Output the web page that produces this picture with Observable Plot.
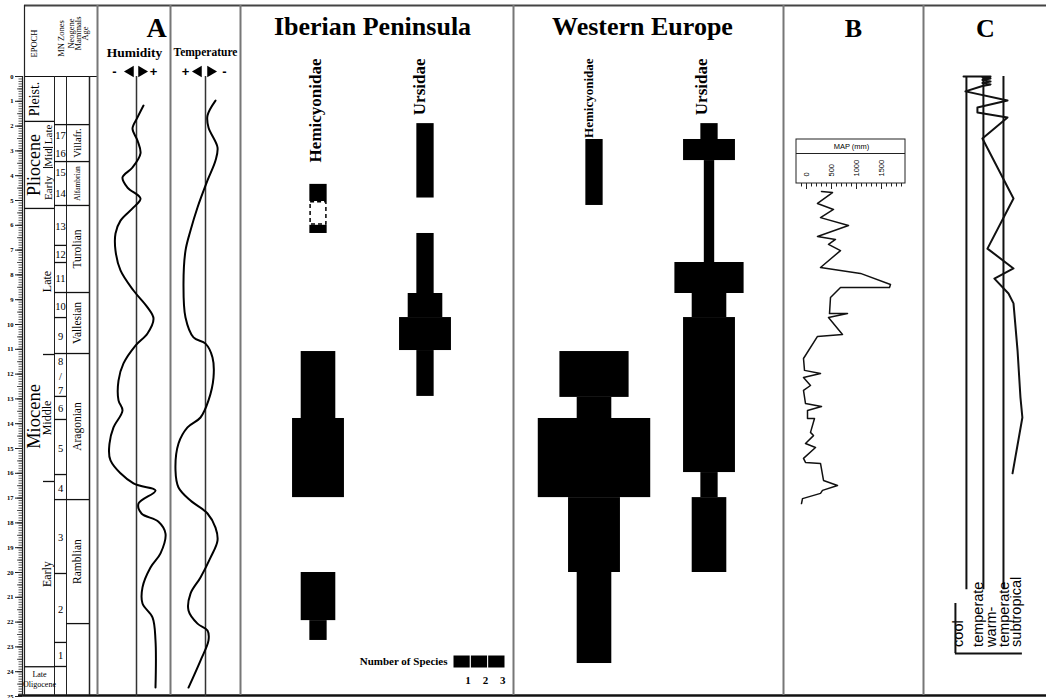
<!DOCTYPE html>
<html><head><meta charset="utf-8">
<script src="https://cdn.jsdelivr.net/npm/d3@7"></script>
<script src="https://cdn.jsdelivr.net/npm/@observablehq/plot@0.6"></script>
<style>
html,body{margin:0;padding:0;background:#fff;}
#root{position:relative;width:1046px;height:698px;overflow:hidden;background:#fff;}
#root svg{position:absolute;left:0;top:0;background:transparent !important;}
</style></head><body><div id="root"></div>
<script>
// ================= DATA =================
const ageTicks = d3.range(0, 26);                       // Ma
const epochNames = ["Pleist.", "Pliocene", "Miocene"];
const epochBounds = [0, 1.81, 5.32, 23.8];
const plioSubNames = ["Late", "Mid", "Early"];
const plioSubBounds = [1.81, 2.86, 3.67, 5.32];
const mioSubNames = ["Late", "Middle", "Early"];
const mioSubBounds = [5.32, 11.21, 16.33, 23.8];
const mnZones = ["17","16","15","14","13","12","11","10","9","8\n/\n7","6","5","4","3","2","1"];
const mnBounds = [1.94, 2.70, 3.43, 4.19, 5.20, 6.81, 7.50, 8.71, 9.72, 11.17, 12.90, 13.83, 16.05, 17.06, 20.04, 22.82, 23.79];
const mnLines = [1.94, 3.43, 5.20, 6.81, 7.50, 8.71, 9.72, 11.17, 12.90, 13.83, 16.05, 17.06, 20.04, 22.82, 23.79];
const mammalAges = ["Villafr.", "Alfambrian", "Turolian", "Vallesian", "Aragonian", "Ramblian"];
const mammalBounds = [1.94, 3.43, 5.20, 8.71, 11.17, 17.06, 22.06];

const humidityAge = [1.17,1.65,2.10,2.58,3.10,3.67,4.07,4.48,4.92,5.28,5.81,6.33,7.02,7.82,8.63,9.31,9.76,10.36,10.85,11.57,12.26,13.06,13.47,14.15,14.80,15.48,16.41,16.69,17.22,17.62,17.95,18.43,19.23,19.80,20.60,21.25,21.81,22.74,24.64];
const humidityValue = [0.35,0.05,-0.2,0.05,0.2,-0.2,-0.7,-0.45,0.2,-0.15,-0.8,-1.05,-1.05,-0.8,-0.15,0.55,0.85,0.55,-0.05,-0.65,-0.9,-0.9,-0.7,-1.15,-1.35,-1.3,-0.15,0.95,0.1,0.25,1.1,1.45,1.2,0.7,0.3,0.3,0.8,0.95,0.95];
const temperatureAge = [0.97,1.57,2.06,2.86,3.39,4.19,5.28,6.21,7.02,8.35,9.72,10.52,10.77,11.33,12.14,13.06,13.75,14.15,14.80,15.89,16.57,17.10,17.62,18.19,18.71,19.40,20.20,20.85,21.53,22.06,22.34,22.74,23.55,24.64];
const temperatureValue = [-0.5,-0.1,-0.15,-0.6,-0.5,-0.1,0.4,0.75,1.0,1.1,1.0,0.6,0.0,-0.35,-0.4,-0.15,0.25,0.9,1.35,1.5,1.35,0.75,-0.1,-0.5,-0.6,-0.25,0.25,0.75,0.85,0.4,-0.1,-0.15,0.25,0.85];

const iberianHemicyonidae = [
  {from: 4.35, to: 5.04, n: 1, sure: true},
  {from: 5.04, to: 6.00, n: 1, sure: false},
  {from: 6.00, to: 6.33, n: 1, sure: true},
  {from: 11.09, to: 13.79, n: 2, sure: true},
  {from: 13.79, to: 16.98, n: 3, sure: true},
  {from: 20.00, to: 21.94, n: 2, sure: true},
  {from: 21.94, to: 22.74, n: 1, sure: true}
];
const iberianUrsidae = [
  {from: 1.90, to: 4.90, n: 1, sure: true},
  {from: 6.33, to: 8.75, n: 1, sure: true},
  {from: 8.75, to: 9.72, n: 2, sure: true},
  {from: 9.72, to: 11.05, n: 3, sure: true},
  {from: 11.05, to: 12.90, n: 1, sure: true}
];
const westHemicyonidae = [
  {from: 2.54, to: 5.20, n: 1, sure: true},
  {from: 11.09, to: 12.94, n: 4, sure: true},
  {from: 12.94, to: 13.79, n: 2, sure: true},
  {from: 13.79, to: 16.98, n: 6.5, sure: true},
  {from: 16.98, to: 20.00, n: 3, sure: true},
  {from: 20.00, to: 23.67, n: 2, sure: true}
];
const westUrsidae = [
  {from: 1.90, to: 2.54, n: 1, sure: true},
  {from: 2.54, to: 3.39, n: 3, sure: true},
  {from: 3.39, to: 7.50, n: 0.6, sure: true},
  {from: 7.50, to: 8.75, n: 4, sure: true},
  {from: 8.75, to: 9.72, n: 2, sure: true},
  {from: 9.72, to: 15.97, n: 3, sure: true},
  {from: 15.97, to: 16.98, n: 1, sure: true},
  {from: 16.98, to: 20.00, n: 2, sure: true}
];
const speciesLegend = [1, 2, 3];

const mapTicksMajor = [0, 500, 1000, 1500];
const mapAge = [4.64,4.68,5.12,5.36,5.69,6.01,6.45,6.57,6.77,7.02,7.70,7.94,8.39,8.51,8.51,8.91,9.56,9.56,9.72,10.40,10.48,11.37,11.85,11.98,12.14,12.46,12.66,13.19,13.31,13.47,13.79,13.79,14.35,14.48,14.80,14.96,15.40,15.56,15.60,16.29,16.49,16.69,16.81,17.02,17.22];
const mapMM  = [300,520,220,540,280,840,220,580,440,680,280,1080,1680,1660,680,480,460,820,440,720,220,-60,-40,280,-60,80,-60,-20,300,20,20,160,80,140,-20,180,-60,-20,280,340,620,320,280,-80,-100];

const climateZones = ["cool", "temperate", "warm-\ntemperate", "subtropical"];
const climateBoundaries = [0.36, 1.24, 2.28];
const climateAge = [0.00,0.00,0.04,0.08,0.14,0.20,0.26,0.32,0.38,0.60,0.97,1.25,1.45,1.65,2.50,4.92,6.94,7.74,8.15,8.75,9.15,11.05,12.94,13.75,16.00];
const climateValue = [0.21,1.61,1.19,1.61,1.19,1.61,1.19,1.61,1.19,0.31,2.49,0.93,0.93,2.49,1.19,2.80,1.45,2.80,1.81,2.54,2.80,3.01,3.16,3.26,2.75];

// ================= DRAWING =================
const root = document.getElementById("root");
const SERIF = "'Liberation Serif','Times New Roman',Times,serif";
const SANS = "'Liberation Sans',Arial,Helvetica,sans-serif";
const ID = {type: "identity"};
const AGE = {type: "linear", domain: [0, 25], range: [76, 696]};

function layer(x, y, marks) {
  const svg = Plot.plot({
    width: 1046, height: 698,
    marginTop: 0, marginRight: 0, marginBottom: 0, marginLeft: 0,
    x: {...x, axis: null}, y: {...y, axis: null},
    style: {background: "transparent", fontFamily: SERIF, overflow: "visible"},
    marks
  });
  root.appendChild(svg);
  return svg;
}
const mid = (a, b) => (a + b) / 2;
const intervals = (names, bounds) => names.map((name, i) => ({name, top: bounds[i], base: bounds[i + 1]}));

// ---- frame & titles (layout layer) ----
layer(ID, ID, [
  Plot.ruleY([5], {x1: 24, x2: 1046, stroke: "#444", strokeWidth: 2}),
  Plot.ruleY([695], {x1: 18, x2: 1046, stroke: "#111", strokeWidth: 2.5}),
  Plot.ruleY([76], {x1: 24, x2: 97, stroke: "#111", strokeWidth: 1}),
  Plot.ruleX([24], {y1: 5, y2: 695, stroke: "#222", strokeWidth: 1.2}),
  Plot.ruleX([54, 66], {y1: 76, y2: 695, stroke: "#222", strokeWidth: 1}),
  Plot.ruleX([89], {y1: 76, y2: 695, stroke: "#222", strokeWidth: 1.5}),
  Plot.ruleX([97, 170, 240, 513, 783, 923], {y1: 5, y2: 695, stroke: "#777", strokeWidth: 2}),
  // header of stratigraphic column
  Plot.text(["EPOCH"], {x: 34, y: 43, rotate: -90, fontSize: 8.5}),
  Plot.text(["MN Zones"], {x: 61, y: 38, rotate: -90, fontSize: 8.5}),
  Plot.text(["Neogene\nMammals\nAge"], {x: 78, y: 33, rotate: -90, fontSize: 8.5, lineHeight: 0.85}),
  // panel titles
  Plot.text(["A"], {x: 156, y: 28, fontSize: 28, fontWeight: "bold"}),
  Plot.text(["Iberian Peninsula"], {x: 372, y: 26, fontSize: 26, fontWeight: "bold"}),
  Plot.text(["Western Europe"], {x: 642, y: 26, fontSize: 26, fontWeight: "bold"}),
  Plot.text(["B"], {x: 853, y: 28, fontSize: 26, fontWeight: "bold"}),
  Plot.text(["C"], {x: 985, y: 28, fontSize: 26, fontWeight: "bold"}),
  Plot.text(["Humidity"], {x: 134, y: 52, fontSize: 13.5, fontWeight: "bold"}),
  Plot.text(["Temperature"], {x: 205, y: 52, fontSize: 11.5, fontWeight: "bold"}),
  Plot.text(["-", "+"], {x: [114, 153], y: 71, fontSize: 13, fontWeight: "bold", fontFamily: SANS}),
  Plot.text(["+", "-"], {x: [185, 224], y: 71, fontSize: 13, fontWeight: "bold", fontFamily: SANS}),
  Plot.dot([-90, 90, -90, 90], {x: [130, 141, 198, 210], y: 71, symbol: "triangle", rotate: d => d, r: 4.2, fill: "black", stroke: null}),
  // family labels
  Plot.text(["Hemicyonidae"], {x: 315, y: 58, rotate: -90, textAnchor: "end", fontSize: 17, fontWeight: "bold"}),
  Plot.text(["Ursidae"], {x: 419, y: 58, rotate: -90, textAnchor: "end", fontSize: 17, fontWeight: "bold"}),
  Plot.text(["Hemicyonidae"], {x: 588, y: 58, rotate: -90, textAnchor: "end", fontSize: 13, fontWeight: "bold"}),
  Plot.text(["Ursidae"], {x: 701, y: 58, rotate: -90, textAnchor: "end", fontSize: 17, fontWeight: "bold"}),
  Plot.text(["Number of Species"], {x: 447, y: 661, textAnchor: "end", fontSize: 11, fontWeight: "bold"})
]);

// ---- stratigraphic column ----
const epochs = intervals(epochNames, epochBounds);
const plioSub = intervals(plioSubNames, plioSubBounds);
const mioSub = intervals(mioSubNames, mioSubBounds);
const mn = intervals(mnZones, mnBounds);
const mammal = intervals(mammalAges, mammalBounds);
layer(ID, AGE, [
  Plot.ruleX([22], {y1: 0, y2: 25, stroke: "#222", strokeWidth: 1.2}),
  Plot.ruleY(d3.range(0, 250).map(i => i / 10), {x1: 18.5, x2: 22, stroke: "#333", strokeWidth: 0.8}),
  Plot.ruleY(d3.range(0, 50).map(i => i / 2), {x1: 17, x2: 22, stroke: "#333", strokeWidth: 0.8}),
  Plot.axisY(ageTicks, {anchor: "left", dx: 22, tickSize: 7, tickPadding: 2, fontSize: 6.5, fontWeight: "bold", stroke: "#222"}),
  Plot.ruleY(epochBounds.slice(1), {x1: 24, x2: 54, stroke: "#111", strokeWidth: 1.3}),
  Plot.ruleY([plioSubBounds[1], plioSubBounds[2]], {x1: 43, x2: 53, stroke: "#111", strokeWidth: 1}),
  Plot.ruleY([mioSubBounds[1], mioSubBounds[2]], {x1: 43, x2: 54, stroke: "#111", strokeWidth: 1.3}),
  Plot.ruleY(mnLines, {x1: 54, x2: 66, stroke: "#111", strokeWidth: 1.3}),
  Plot.ruleY(mammalBounds, {x1: 66, x2: 89, stroke: "#111", strokeWidth: 1.3}),
  Plot.text(epochs.slice(0, 2), {x: 34, y: d => mid(d.top, d.base), text: "name", rotate: -90, fontSize: d => d.name === "Pleist." ? 14 : 18}),
  Plot.text(epochs.slice(2), {x: 34, y: d => mid(d.top, d.base) - 0.85, text: "name", rotate: -90, fontSize: 18.5}),
  Plot.text(plioSub, {x: 48, y: d => mid(d.top, d.base), text: "name", rotate: -90, fontSize: 11}),
  Plot.text(mioSub, {x: 47, y: d => mid(d.top, d.base), text: "name", rotate: -90, fontSize: 12}),
  Plot.text(["Late\nOligocene"], {x: 39, y: mid(epochBounds[3], 25) - 0.1, fontSize: 8, lineHeight: 1.25}),
  Plot.text(mn, {x: 60, y: d => mid(d.top, d.base), text: "name", fontSize: 10.5, lineHeight: 1.35}),
  Plot.text(mammal, {x: 77, y: d => mid(d.top, d.base), text: "name", rotate: -90, fontSize: d => d.name === "Alfambrian" ? 7.5 : (d.name === "Villafr." ? 10.5 : 11.5)})
]);

// ---- panel A: humidity ----
const humidity = d3.zip(humidityAge, humidityValue).map(([age, v]) => ({age, v}));
layer({domain: [-2, 2], range: [96, 176]}, AGE, [
  Plot.ruleX([0], {y1: 0, y2: 25, stroke: "#333", strokeWidth: 1.5}),
  Plot.line(humidity, {x: "v", y: "age", curve: "catmull-rom", stroke: "black", strokeWidth: 2})
]);
// ---- panel A: temperature (+ to the left) ----
const temperature = d3.zip(temperatureAge, temperatureValue).map(([age, v]) => ({age, v}));
layer({domain: [2, -2], range: [165, 245]}, AGE, [
  Plot.ruleX([0], {y1: 0, y2: 25, stroke: "#333", strokeWidth: 1.5}),
  Plot.line(temperature, {x: "v", y: "age", curve: "catmull-rom", stroke: "black", strokeWidth: 2})
]);

// ---- species range columns ----
const UNIT = 17.3;
function speciesColumn(data, cx) {
  layer({domain: [-4, 4], range: [cx - 4 * UNIT, cx + 4 * UNIT]}, AGE, [
    Plot.rect(data.filter(d => d.sure), {x1: d => -d.n / 2, x2: d => d.n / 2, y1: "from", y2: "to", fill: "black"}),
    Plot.rect(data.filter(d => !d.sure), {x1: d => -d.n / 2, x2: d => d.n / 2, y1: "from", y2: "to", fill: "white", stroke: "black", strokeWidth: 1.5, strokeDasharray: "4,3", inset: 0.75})
  ]);
}
speciesColumn(iberianHemicyonidae, 318);
speciesColumn(iberianUrsidae, 425);
speciesColumn(westHemicyonidae, 594);
speciesColumn(westUrsidae, 709);

// legend for number of species
layer({domain: [0, 3], range: [453, 505]}, ID, [
  Plot.rect(speciesLegend, {x1: d => d - 1, x2: d => d, y1: 655, y2: 668, fill: "black", stroke: "white", strokeWidth: 1}),
  Plot.text(speciesLegend, {x: d => d, y: 680, text: d => String(d), textAnchor: "end", fontSize: 11, fontWeight: "bold"})
]);

// ---- panel B: MAP ----
const mapX = {domain: [-200, 1980], range: [796, 905]};
layer(mapX, ID, [
  Plot.rect([0], {x1: -200, x2: 1980, y1: 139, y2: 183, fill: "none", stroke: "#222", strokeWidth: 1}),
  Plot.ruleY([153], {x1: -200, x2: 1980, stroke: "#222", strokeWidth: 1}),
  Plot.text(["MAP (mm)"], {x: 900, y: 146, fontSize: 7.5, fontFamily: SANS}),
  Plot.ruleX(d3.range(-100, 1980, 100), {y1: 183, y2: 186.5, stroke: "#222", strokeWidth: 1}),
  Plot.ruleX(mapTicksMajor, {y1: 183, y2: 189, stroke: "#222", strokeWidth: 1}),
  Plot.text(mapTicksMajor, {x: d => d, y: 176, text: d => String(d), rotate: -90, textAnchor: "start", fontSize: 7.5, fontFamily: SANS})
]);
const map = d3.zip(mapAge, mapMM).map(([age, mm]) => ({age, mm}));
layer(mapX, AGE, [
  Plot.line(map, {x: "mm", y: "age", stroke: "#111", strokeWidth: 1.5})
]);

// ---- panel C: climate ----
const climate = d3.zip(climateAge, climateValue).map(([age, v]) => ({age, v}));
layer({domain: [-0.6, 4.5], range: [947.4, 1045.8]}, AGE, [
  Plot.ruleX(climateBoundaries, {y1: 0, y2: 20.7, stroke: "#111", strokeWidth: 2}),
  Plot.line(climate, {x: "v", y: "age", stroke: "#111", strokeWidth: 2}),
  Plot.text(climateZones, {x: (d, i) => i + (i === 2 ? 0.02 : 0), y: 23.0, text: d => d, rotate: -90, textAnchor: "start", fontSize: 14.5, lineHeight: 0.85, fontFamily: SANS}),
  Plot.ruleX([-0.21], {y1: 21.25, y2: 23.27, stroke: "#111", strokeWidth: 2}),
  Plot.ruleY([23.27], {x1: -0.21, x2: 3.26, stroke: "#111", strokeWidth: 2})
]);
</script></body></html>
